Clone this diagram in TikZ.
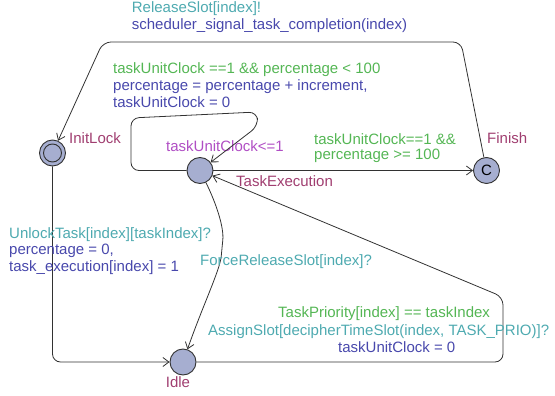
\documentclass[tikz,border=0pt]{standalone}
\usepackage{fontspec}
\setmainfont{Liberation Sans}
\usetikzlibrary{arrows.meta}

\definecolor{guardc}{RGB}{84,182,84}
\definecolor{syncc}{RGB}{78,170,176}
\definecolor{updc}{RGB}{72,72,172}
\definecolor{locname}{RGB}{160,62,112}
\definecolor{invc}{RGB}{176,78,196}
\definecolor{locfill}{RGB}{166,174,208}
\definecolor{edgec}{RGB}{50,50,50}

\tikzset{
  loc/.style={circle, draw=edgec, fill=locfill, line width=0.9pt,
    minimum size=26pt, inner sep=0pt, font=\fontsize{15}{16.5}\selectfont},
  trans/.style={draw=edgec, line width=0.8pt, rounded corners=8pt,
    -{Straight Barb[length=6pt,width=9pt]}},
  lbl/.style={font=\fontsize{15}{16.5}\selectfont, inner sep=0pt, anchor=base west},
  guardlbl/.style={lbl, text=guardc},
  synclbl/.style={lbl, text=syncc},
  updlbl/.style={lbl, text=updc},
  loclbl/.style={lbl, text=locname},
  invlbl/.style={lbl, text=invc},
}

\begin{document}
\begin{tikzpicture}[x=1pt, y=-1pt]
  \useasboundingbox (0,0) rectangle (555,396);

  % locations
  \node[loc] (init) at (52.5,153) {};
  \draw[edgec, line width=0.9pt] (init.center) circle[radius=9pt];
  \node[loc] (te) at (200,170.5) {};
  \node[loc] (fin) at (486.5,170.5) {C};
  \node[loc] (idle) at (183,362) {};

  % location names and invariant
  \node[loclbl] (nInit) at (69,143) {InitLock};
  \node[loclbl] (nTe) at (236,186) {TaskExecution};
  \node[loclbl] (nFin) at (487,143) {Finish};
  \node[loclbl, anchor=base] (nIdle) at (178,387) {Idle};
  \node[invlbl] (invTe) at (166,152) {taskUnitClock<=1};

  % transitions
  \draw[trans] (fin) -- (461,42) -- (103,42) -- (init);
  \draw[trans] (te) -- (131,170.5) -- (131,118) -- (257,112) -- (258,126) -- (te);
  \draw[trans] (te) -- (fin);
  \draw[trans] (te) .. controls (217,205) and (224,228) .. (222,248)
                    .. controls (220,270) and (203,305) .. (idle);
  \draw[trans] (idle) -- (503,362) -- (503,297) -- (te);
  \draw[trans] (init) -- (52.5,362) -- (idle);

  % Finish -> InitLock
  \node[synclbl] (s1) at (131.7,13) {ReleaseSlot[index]!};
  \node[updlbl] (u1) at (131.7,29.5) {scheduler\_signal\_task\_completion(index)};

  % TaskExecution self loop
  \node[guardlbl] (g2) at (113,74) {taskUnitClock ==1 \&\& percentage < 100};
  \node[updlbl] (u2a) at (113,90.5) {percentage = percentage + increment,};
  \node[updlbl] (u2b) at (113,107) {taskUnitClock = 0};

  % TaskExecution -> Finish
  \node[guardlbl] (g3a) at (314,144) {taskUnitClock==1 \&\&};
  \node[guardlbl] (g3b) at (314,160) {percentage >= 100};

  % InitLock -> Idle
  \node[synclbl] (s4) at (9,238) {UnlockTask[index][taskIndex]?};
  \node[updlbl] (u4a) at (9,254.5) {percentage = 0,};
  \node[updlbl] (u4b) at (9,271) {task\_execution[index] = 1};

  % TaskExecution -> Idle
  \node[synclbl] (s5) at (200,265) {ForceReleaseSlot[index]?};

  % Idle -> TaskExecution
  \node[guardlbl] (g6) at (278,317.5) {TaskPriority[index] == taskIndex};
  \node[synclbl] (s6) at (208,335) {AssignSlot[decipherTimeSlot(index, TASK\_PRIO)]?};
  \node[updlbl] (u6) at (338,352.5) {taskUnitClock = 0};
\end{tikzpicture}
\end{document}
